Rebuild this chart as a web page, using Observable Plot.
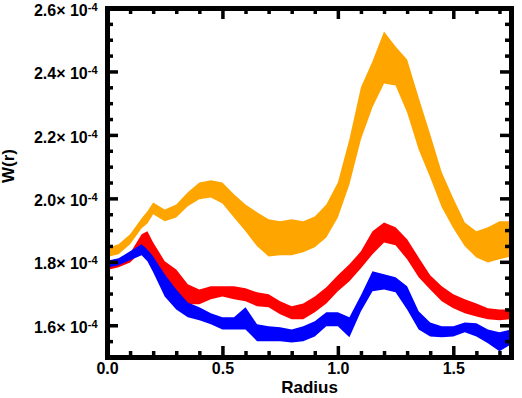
<!DOCTYPE html>
<html><head><meta charset="utf-8">
<script src="https://cdn.jsdelivr.net/npm/d3@7"></script>
<script src="https://cdn.jsdelivr.net/npm/@observablehq/plot@0.6"></script>
<style>html,body{margin:0;padding:0;background:#fff;}</style>
</head><body><div id="chart"></div>
<script>
// values of W(r) are in units of 10^EXPONENT
const EXPONENT = -4;
const radius = [0, 0.01, 0.05, 0.10, 0.15, 0.175, 0.20, 0.25, 0.30, 0.35, 0.40, 0.45, 0.50, 0.55, 0.60, 0.65, 0.70, 0.75, 0.80, 0.85, 0.90, 0.95, 1.00, 1.05, 1.10, 1.15, 1.20, 1.25, 1.30, 1.35, 1.40, 1.45, 1.50, 1.55, 1.60, 1.65, 1.70, 1.75];
const orangeHi = [2.082, 1.846, 1.855, 1.887, 1.937, 1.959, 1.987, 1.965, 1.981, 2.019, 2.050, 2.057, 2.050, 2.013, 1.981, 1.956, 1.934, 1.928, 1.934, 1.928, 1.943, 1.981, 2.050, 2.186, 2.350, 2.432, 2.526, 2.479, 2.438, 2.318, 2.202, 2.082, 2.000, 1.924, 1.896, 1.909, 1.928, 1.928];
const orangeLo = [1.628, 1.817, 1.824, 1.855, 1.906, 1.921, 1.950, 1.928, 1.940, 1.975, 1.997, 2.003, 1.984, 1.940, 1.896, 1.849, 1.817, 1.821, 1.821, 1.830, 1.846, 1.877, 1.940, 2.044, 2.186, 2.287, 2.362, 2.356, 2.271, 2.154, 2.066, 1.972, 1.906, 1.849, 1.814, 1.798, 1.808, 1.817];
const redHi = [1.798, 1.798, 1.805, 1.827, 1.887, 1.896, 1.861, 1.802, 1.776, 1.729, 1.713, 1.723, 1.723, 1.723, 1.717, 1.704, 1.698, 1.676, 1.660, 1.669, 1.691, 1.720, 1.758, 1.792, 1.833, 1.896, 1.924, 1.909, 1.871, 1.814, 1.758, 1.723, 1.698, 1.682, 1.669, 1.654, 1.650, 1.650];
const redLo = [1.776, 1.776, 1.783, 1.798, 1.833, 1.839, 1.783, 1.735, 1.704, 1.666, 1.666, 1.682, 1.691, 1.682, 1.676, 1.660, 1.657, 1.635, 1.619, 1.619, 1.641, 1.669, 1.707, 1.739, 1.780, 1.824, 1.861, 1.852, 1.808, 1.751, 1.713, 1.676, 1.654, 1.638, 1.628, 1.619, 1.616, 1.619];
const blueHi = [1.805, 1.805, 1.811, 1.833, 1.855, 1.839, 1.817, 1.761, 1.713, 1.672, 1.657, 1.638, 1.625, 1.625, 1.657, 1.603, 1.597, 1.594, 1.587, 1.597, 1.613, 1.641, 1.641, 1.625, 1.695, 1.770, 1.761, 1.751, 1.723, 1.644, 1.609, 1.597, 1.597, 1.609, 1.606, 1.587, 1.578, 1.587];
const blueLo = [1.783, 1.783, 1.789, 1.805, 1.821, 1.802, 1.767, 1.691, 1.650, 1.625, 1.616, 1.603, 1.587, 1.587, 1.587, 1.550, 1.550, 1.550, 1.546, 1.550, 1.565, 1.597, 1.597, 1.562, 1.644, 1.707, 1.713, 1.704, 1.650, 1.587, 1.565, 1.562, 1.565, 1.578, 1.565, 1.543, 1.518, 1.540];
const xMajor = [0, 0.5, 1.0, 1.5];
const xMinor = [0.1, 0.2, 0.3, 0.4, 0.6, 0.7, 0.8, 0.9, 1.1, 1.2, 1.3, 1.4, 1.6, 1.7];
const yMajor = [1.6, 1.8, 2.0, 2.2, 2.4, 2.6];
const yMinor = [1.55, 1.65, 1.7, 1.75, 1.85, 1.9, 1.95, 2.05, 2.1, 2.15, 2.25, 2.3, 2.35, 2.45, 2.5, 2.55];

const series = [
  {name: "orange", color: "#FFA500", hi: orangeHi, lo: orangeLo},
  {name: "red", color: "#FF0000", hi: redHi, lo: redLo},
  {name: "blue", color: "#0000FF", hi: blueHi, lo: blueLo}
];
const rows = s => radius.map((r, i) => ({r, hi: s.hi[i], lo: s.lo[i]}));

const W = 522, H = 398, mL = 107, mR = 11, mT = 8, mB = 41;
const pw = W - mL - mR, ph = H - mT - mB;
const majorLen = 11, minorLen = 6;

const tickStyle = {stroke: "black", strokeWidth: 3.5};
const chart = Plot.plot({
  width: W, height: H,
  marginLeft: mL, marginRight: mR, marginTop: mT, marginBottom: mB,
  style: {fontFamily: "'Liberation Sans', Arial, sans-serif", fontWeight: "bold", background: "#fff", color: "black"},
  x: {domain: [0, 1.75]},
  y: {domain: [1.5, 2.6]},
  marks: [
    ...series.map(s => Plot.areaY(rows(s), {x: "r", y1: "lo", y2: "hi", fill: s.color, curve: "linear"})),
    // inward ticks on all four sides
    Plot.tickY(yMajor, {y: d => d, insetRight: pw - majorLen, ...tickStyle}),
    Plot.tickY(yMinor, {y: d => d, insetRight: pw - minorLen, ...tickStyle}),
    Plot.tickY(yMajor, {y: d => d, insetLeft: pw - majorLen, ...tickStyle}),
    Plot.tickY(yMinor, {y: d => d, insetLeft: pw - minorLen, ...tickStyle}),
    Plot.tickX(xMajor, {x: d => d, insetTop: ph - majorLen, ...tickStyle}),
    Plot.tickX(xMinor, {x: d => d, insetTop: ph - minorLen, ...tickStyle}),
    Plot.tickX(xMajor, {x: d => d, insetBottom: ph - majorLen, ...tickStyle}),
    Plot.tickX(xMinor, {x: d => d, insetBottom: ph - minorLen, ...tickStyle}),
    Plot.frame({stroke: "black", strokeWidth: 5}),
    Plot.axisY(yMajor, {tickSize: 0, tickPadding: 10, dy: 2, fontSize: 16, fontWeight: "bold", label: null,
      tickFormat: d => `${d.toFixed(1)}× 10`}),
    Plot.axisX(xMajor, {tickSize: 0, tickPadding: 5, fontSize: 16, fontWeight: "bold", label: null,
      tickFormat: d => d.toFixed(1)}),
    Plot.text(["Radius"], {frameAnchor: "bottom", lineAnchor: "middle", dy: 30, fontSize: 17, fontWeight: "bold"}),
    Plot.text(["W(r)"], {frameAnchor: "left", dx: -99, rotate: -90, fontSize: 17, fontWeight: "bold"})
  ]
});
// superscript exponent on y tick labels
const ns = "http://www.w3.org/2000/svg";
chart.querySelectorAll('[aria-label="y-axis tick label"] text').forEach(t => {
  const sp = document.createElementNS(ns, "tspan");
  sp.setAttribute("dy", "-0.45em");
  sp.setAttribute("font-size", "11");
  sp.textContent = String(EXPONENT);
  t.appendChild(sp);
});
document.getElementById("chart").appendChild(chart);
</script>
</body></html>
